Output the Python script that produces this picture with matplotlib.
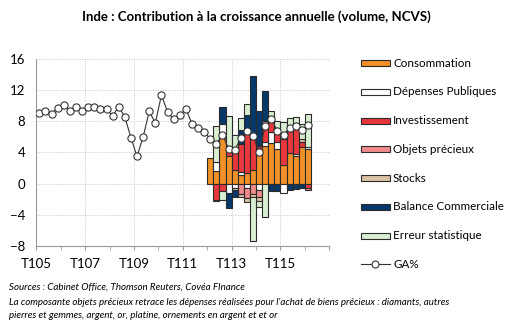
import numpy as np
import matplotlib
matplotlib.use("Agg")
import matplotlib.pyplot as plt
from matplotlib.patches import Rectangle
from matplotlib.lines import Line2D

plt.rcParams['font.family'] = ['Lato', 'DejaVu Sans']

# ---------------- data ----------------
tick_labels = ["T105", "T107", "T109", "T111", "T113", "T115", ""]

# GA% : 2005Q1 .. 2016Q1 (quarterly)
ga = [9.1, 9.4, 9.0, 9.7, 10.1, 9.4, 9.9, 9.4, 9.9, 9.8, 9.6, 9.6, 8.7, 9.9, 8.6,
      5.9, 3.5, 6.0, 9.3, 7.8, 11.4, 9.2, 8.3, 8.8, 9.6, 7.7, 7.1, 6.6, 5.8, 5.1,
      6.3, 4.5, 4.3, 5.9, 6.8, 6.1, 4.1, 7.4, 8.3, 6.8, 6.2, 7.2, 7.4, 6.9, 7.5]

# contributions : 2012Q1 .. 2016Q1
bar_start = 28  # index of 2012Q1 in the GA series
consommation = [3.3, 1.6, 5.9, 3.6, 1.7, 1.1, 1.3, 1.7, 3.9, 4.9, 5.2, 4.5, 2.4, 3.9, 3.6, 4.7, 4.5]
depenses     = [0.0, 1.2, 1.8, -1.2, -0.6, 0.4, -0.6, 0.0, -0.8, 0.4, 1.5, 0.9, -1.2, 0.0, 0.2, 0.0, 0.2]
invest       = [0.0, -2.1, -1.0, 1.0, 2.8, 3.6, 5.8, 4.0, 1.0, 2.4, 1.5, 1.3, 3.4, 3.4, 3.9, 0.7, -0.6]
objets       = [0.0, 0.0, 0.0, 0.0, 0.0, -1.3, -1.3, -1.4, -0.9, 0.0, 0.0, 0.0, 0.0, 0.0, 0.0, 0.0, -0.2]
stocks       = [0.0, -0.2, 0.0, 0.0, -0.2, -0.4, -0.5, -0.3, -0.6, 0.3, 0.2, 0.0, 0.0, 0.0, 0.0, 0.3, 0.0]
balance      = [0.0, 0.0, 2.2, -2.0, -0.9, 1.8, 1.7, 8.2, 4.4, 3.9, -0.9, -0.9, 0.0, -0.8, -0.7, -0.6, 0.0]
erreur       = [0.0, 4.6, -1.1, 4.1, 1.7, 1.6, 1.4, -5.7, -0.7, -4.3, 1.0, 1.3, 2.1, 1.1, 0.9, 2.0, 4.3]

series_names = ["Consommation", "Dépenses Publiques", "Investissement", "Objets précieux",
                "Stocks", "Balance Commerciale", "Erreur statistique"]
series = [consommation, depenses, invest, objets, stocks, balance, erreur]
colors = ["#F39129", "#FFFFFF", "#E8383D", "#F28C8C", "#D8C3A5", "#07386B", "#D9EFD2"]
edge = "#2b2b2b"

# ---------------- figure ----------------
W, H = 512, 327
fig = plt.figure(figsize=(W / 100, H / 100), dpi=100)
ax = fig.add_axes([0.0709, 0.2486, 0.5723, 0.5701])

n_bars = len(consommation)
xb = np.arange(bar_start, bar_start + n_bars) + 0.5
pos_base = np.zeros(n_bars)
neg_base = np.zeros(n_bars)
for vals, col in zip(series, colors):
    v = np.array(vals)
    pos = np.where(v > 0, v, 0)
    neg = np.where(v < 0, v, 0)
    m = v > 0
    ax.bar(xb[m], pos[m], bottom=pos_base[m], width=1.0, color=col,
           edgecolor=edge, linewidth=0.8, zorder=2)
    m = v < 0
    ax.bar(xb[m], neg[m], bottom=neg_base[m], width=1.0, color=col,
           edgecolor=edge, linewidth=0.8, zorder=2)
    pos_base += pos
    neg_base += neg

xg = np.arange(len(ga)) + 0.5
ax.plot(xg, ga, color="#333333", lw=0.8, marker="o", markersize=5.2,
        markerfacecolor="white", markeredgecolor="#333333", markeredgewidth=0.8, zorder=4)

ax.set_xlim(0, 48)
ax.set_ylim(-8, 16)
ax.set_yticks(np.arange(-8, 17, 4))
ax.set_xticks(np.arange(0, 49, 8))
ax.set_xticklabels(tick_labels)
ax.set_xticks(np.arange(4, 48, 8), minor=True)

for s in ["top", "right"]:
    ax.spines[s].set_visible(False)
for s in ["left", "bottom"]:
    ax.spines[s].set_color("#9a9a9a")
    ax.spines[s].set_linewidth(0.8)

ax.grid(True, which="major", axis="both", linestyle=(0, (1, 1.5)), color="#c8c8c8", linewidth=0.7, zorder=0)
ax.set_axisbelow(True)
ax.tick_params(axis="both", which="both", length=3, color="#9a9a9a", labelsize=9.5, pad=4)
ax.tick_params(axis="x", which="major", pad=6)
ax.tick_params(axis="y", length=0, pad=8)

fig.text(0.5, 0.948, "Inde : Contribution à la croissance annuelle (volume, NCVS)",
         ha="center", va="center", fontsize=9.5, fontweight="bold")

# ---------------- legend (drawn manually for exact spacing) ----------------
leg_x0, leg_x1, leg_tx = 360.7, 390.0, 393.0
leg_y0, leg_dy, leg_h = 63.3, 28.7, 6.0
labels = series_names + ["GA%"]
for i, lab in enumerate(labels):
    yc = leg_y0 + i * leg_dy
    if i < len(colors):
        fig.add_artist(Rectangle((leg_x0 / W, 1 - (yc + leg_h / 2) / H),
                                 (leg_x1 - leg_x0) / W, leg_h / H,
                                 transform=fig.transFigure, facecolor=colors[i],
                                 edgecolor=edge, linewidth=0.8))
    else:
        fig.add_artist(Line2D([leg_x0 / W, leg_x1 / W], [1 - yc / H, 1 - yc / H],
                              transform=fig.transFigure, color="#333333", lw=0.8))
        fig.add_artist(Line2D([(leg_x0 + leg_x1) / 2 / W], [1 - yc / H],
                              transform=fig.transFigure, marker="o", markersize=5,
                              markerfacecolor="white", markeredgecolor="#333333",
                              markeredgewidth=0.8, linestyle="none"))
    fig.text(leg_tx / W, 1 - yc / H, lab, fontsize=8.4, va="center", ha="left")

fig.text(0.018, 0.123, "Sources : Cabinet Office, Thomson Reuters, Covéa FInance",
         fontsize=7, style="italic", va="center")
fig.text(0.018, 0.074, "La composante objets précieux retrace les dépenses réalisées pour l'achat de biens précieux : diamants, autres",
         fontsize=7, style="italic", va="center")
fig.text(0.018, 0.036, "pierres et gemmes, argent, or, platine, ornements en argent et et or",
         fontsize=7, style="italic", va="center")

fig.savefig("out.png", dpi=100)
